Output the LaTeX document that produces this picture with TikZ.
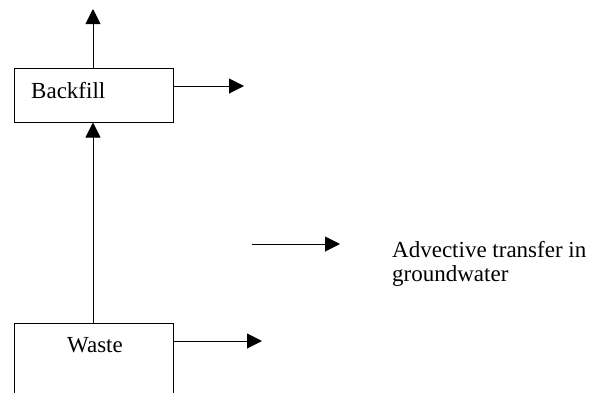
\documentclass[tikz,border=0pt]{standalone}
\usepackage{fontspec}
\setmainfont{Liberation Serif}
\usetikzlibrary{arrows.meta}
\begin{document}
\begin{tikzpicture}[x=1pt,y=-1pt,
  every node/.style={font=\fontsize{23}{24}\selectfont, inner sep=0pt},
  box/.style={draw, line width=1pt, rectangle, minimum width=159pt},
  flow/.style={line width=1pt, -{Triangle[length=15pt,width=15pt]}}]
  \clip (0,0) rectangle (595,392);
  \useasboundingbox (0,0) rectangle (595,392);
  % compartments
  \node[box, minimum height=54pt] (backfill) at (93.5,95) {};
  \node[anchor=base west] (backfilltext) at (31,98) {Backfill};
  \node[box, minimum height=90pt] (waste) at (93.5,368) {};
  \node[anchor=base] (wastetext) at (95,352) {Waste};
  % free ends of the outgoing fluxes
  \coordinate (top) at (93,9);
  \coordinate (bright) at (244,86);
  \coordinate (wright) at (262,341);
  % fluxes
  \draw[flow] ([xshift=-0.5pt]waste.north) -- ([xshift=-0.5pt]backfill.south);
  \draw[flow] ([xshift=-0.5pt]backfill.north) -- (top);
  \draw[flow] (backfill.east |- bright) -- (bright);
  \draw[flow] (waste.east |- wright) -- (wright);
  % legend
  \coordinate (legstart) at (252,244);
  \coordinate (legend) at (340,244);
  \draw[flow] (legstart) -- (legend);
  \node[anchor=base west, align=left] (legendtext) at (392,281) {Advective transfer in\\groundwater};
\end{tikzpicture}
\end{document}
